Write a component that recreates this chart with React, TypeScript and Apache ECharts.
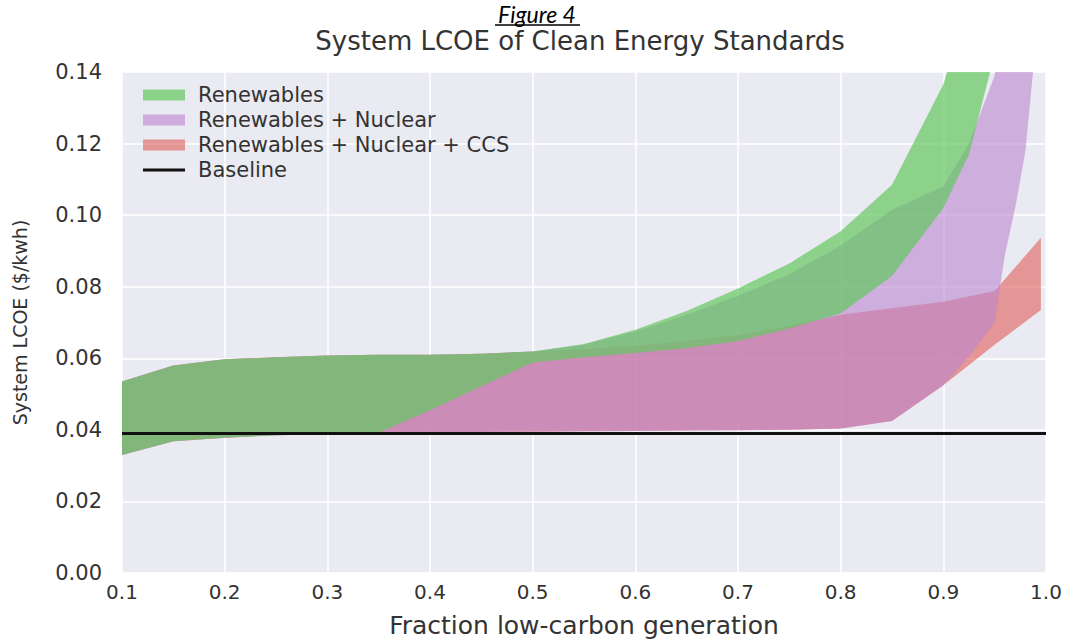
import React, { useEffect, useRef } from "react";
import * as echarts from "echarts";

// ---- Data ----
const renewablesX = [0.1, 0.15, 0.2, 0.25, 0.3, 0.35, 0.4, 0.45, 0.5, 0.55, 0.6, 0.65, 0.7, 0.75, 0.8, 0.85, 0.9, 0.925, 0.95];
const renewablesLow = [0.033, 0.0368, 0.0378, 0.0385, 0.0388, 0.0392, 0.0455, 0.0522, 0.0588, 0.0603, 0.0615, 0.0628, 0.0648, 0.0683, 0.0725, 0.083, 0.102, 0.117, 0.145];
const renewablesHigh = [0.0535, 0.058, 0.0597, 0.0603, 0.0608, 0.061, 0.061, 0.0613, 0.0619, 0.064, 0.068, 0.0732, 0.0795, 0.0865, 0.0955, 0.1085, 0.1365, 0.16, 0.18];

const nuclearX = [0.1, 0.15, 0.2, 0.25, 0.3, 0.35, 0.4, 0.45, 0.5, 0.55, 0.6, 0.65, 0.7, 0.75, 0.8, 0.85, 0.9, 0.925, 0.95, 0.96, 0.97, 0.98, 0.99];
const nuclearLow = [0.033, 0.0368, 0.0378, 0.0385, 0.0388, 0.0392, 0.0393, 0.0394, 0.0395, 0.0396, 0.0397, 0.0398, 0.0399, 0.04, 0.0404, 0.0425, 0.0525, 0.0605, 0.07, 0.089, 0.102, 0.118, 0.148];
const nuclearHigh = [0.0535, 0.058, 0.0597, 0.0603, 0.0608, 0.061, 0.061, 0.0613, 0.0619, 0.0638, 0.0675, 0.0722, 0.0775, 0.0835, 0.0915, 0.1015, 0.108, 0.12, 0.139, 0.155, 0.17, 0.185, 0.2];

const ccsX = [0.1, 0.15, 0.2, 0.25, 0.3, 0.35, 0.4, 0.45, 0.5, 0.55, 0.6, 0.65, 0.7, 0.75, 0.8, 0.85, 0.9, 0.95, 0.995];
const ccsLow = [0.033, 0.0368, 0.0378, 0.0385, 0.0388, 0.0392, 0.0393, 0.0394, 0.0395, 0.0396, 0.0397, 0.0398, 0.0399, 0.04, 0.0404, 0.0425, 0.0525, 0.0638, 0.0735];
const ccsHigh = [0.0535, 0.058, 0.0597, 0.0603, 0.0608, 0.061, 0.061, 0.0613, 0.0619, 0.0625, 0.0635, 0.0648, 0.0665, 0.069, 0.0722, 0.074, 0.0758, 0.0788, 0.0937];

const baselineX = [0.1, 1.0];
const baselineY = [0.039, 0.039];

const xTicks = [0.1, 0.2, 0.3, 0.4, 0.5, 0.6, 0.7, 0.8, 0.9, 1.0];
const yTicks = [0, 0.02, 0.04, 0.06, 0.08, 0.1, 0.12, 0.14];

const GREEN = "rgba(100, 200, 96, 0.7)";
const PURPLE = "rgba(186, 134, 205, 0.6)";
const RED = "rgba(224, 94, 89, 0.6)";
const FONT = "DejaVu Sans";

function clipTop(pts: number[][], top: number): number[][] {
  const out: number[][] = [];
  for (let i = 0; i < pts.length; i++) {
    const a = pts[i];
    const b = pts[(i + 1) % pts.length];
    const ain = a[1] >= top;
    const bin = b[1] >= top;
    if (ain) out.push(a);
    if (ain !== bin) {
      const t = (top - a[1]) / (b[1] - a[1]);
      out.push([a[0] + t * (b[0] - a[0]), top]);
    }
  }
  return out;
}

function bandSeries(name: string, xs: number[], low: number[], high: number[], color: string, z: number) {
  const data = xs.map((x, i) => [x, low[i], high[i]]);
  return {
    type: "custom",
    name,
    data,
    z,
    silent: true,
    clip: true,
    itemStyle: { color },
    encode: { x: 0, y: [1, 2] },
    renderItem: (params: any, api: any) => {
      if (params.dataIndex !== 0) return null;
      const lower = data.map((d) => api.coord([d[0], d[1]]));
      const upper = data.map((d) => api.coord([d[0], d[2]])).reverse();
      const top = params.coordSys.y;
      const pts = clipTop(lower.concat(upper), top);
      return {
        type: "polygon",
        shape: { points: pts },
        style: { fill: color, stroke: "none" },
      };
    },
  };
}

export default function App() {
  const ref = useRef<HTMLDivElement>(null);

  useEffect(() => {
    if (!ref.current) return;
    const chart = echarts.init(ref.current, undefined, { renderer: "svg" });
    const option: any = {
      animation: false,
      backgroundColor: "#ffffff",
      grid: {
        left: 122,
        right: 22,
        top: 72,
        bottom: 63,
        show: true,
        backgroundColor: "#EAEAF2",
        borderWidth: 0,
      },
      graphic: [
        {
          type: "text",
          x: 537,
          y: 2,
          style: {
            text: "Figure 4",
            font: "italic 23px Lato",
            fill: "#000",
            align: "center",
            verticalAlign: "top",
          },
        },
        {
          type: "line",
          shape: { x1: 495, y1: 25, x2: 580, y2: 25 },
          style: { stroke: "#000", lineWidth: 1.5 },
        },
        {
          type: "text",
          x: 580,
          y: 41,
          style: {
            text: "System LCOE of Clean Energy Standards",
            font: `26px '${FONT}'`,
            fill: "#333",
            align: "center",
            verticalAlign: "middle",
          },
        },
      ],
      legend: {
        orient: "vertical",
        left: 138,
        top: 79,
        itemWidth: 42,
        itemHeight: 11,
        itemGap: 3,
        selectedMode: false,
        textStyle: { fontFamily: FONT, fontSize: 21, color: "#333", lineHeight: 22, padding: [0, 0, 0, 8] },
        data: [
          { name: "Renewables", icon: "rect", itemStyle: { color: GREEN, borderWidth: 0 } },
          { name: "Renewables + Nuclear", icon: "rect", itemStyle: { color: PURPLE, borderWidth: 0 } },
          { name: "Renewables + Nuclear + CCS", icon: "rect", itemStyle: { color: RED, borderWidth: 0 } },
          { name: "Baseline", icon: "path://M0 0H42V3H0Z", itemStyle: { color: "#111", borderWidth: 0 } },
        ],
      },
      xAxis: {
        type: "value",
        min: xTicks[0],
        max: xTicks[xTicks.length - 1],
        interval: 0.1,
        name: "Fraction low-carbon generation",
        nameLocation: "middle",
        nameGap: 40,
        nameTextStyle: { fontFamily: FONT, fontSize: 25, color: "#333" },
        axisLine: { show: false },
        axisTick: { show: false },
        axisLabel: {
          fontFamily: FONT,
          fontSize: 20,
          color: "#333",
          margin: 9,
          formatter: (v: number) => v.toFixed(1),
        },
        splitLine: { show: true, lineStyle: { color: "#ffffff", width: 1.6 } },
      },
      yAxis: {
        type: "value",
        min: yTicks[0],
        max: yTicks[yTicks.length - 1],
        interval: 0.02,
        name: "System LCOE ($/kwh)",
        nameLocation: "middle",
        nameRotate: 90,
        nameGap: 93,
        nameTextStyle: { fontFamily: FONT, fontSize: 19, color: "#333" },
        axisLine: { show: false },
        axisTick: { show: false },
        axisLabel: {
          fontFamily: FONT,
          fontSize: 21,
          color: "#333",
          margin: 20,
          formatter: (v: number) => v.toFixed(2),
        },
        splitLine: { show: true, lineStyle: { color: "#ffffff", width: 1.6 } },
      },
      series: [
        bandSeries("Renewables + Nuclear + CCS", ccsX, ccsLow, ccsHigh, RED, 1),
        bandSeries("Renewables + Nuclear", nuclearX, nuclearLow, nuclearHigh, PURPLE, 2),
        bandSeries("Renewables", renewablesX, renewablesLow, renewablesHigh, GREEN, 3),
        {
          type: "line",
          name: "Baseline",
          data: baselineX.map((x, i) => [x, baselineY[i]]),
          showSymbol: false,
          symbol: "none",
          silent: true,
          z: 4,
          lineStyle: { color: "#111", width: 3 },
          itemStyle: { color: "#111" },
        },
      ],
    };
    chart.setOption(option);
    return () => chart.dispose();
  }, []);

  return (
    <div
      ref={ref}
      style={{ position: "fixed", left: 0, top: 0, width: 1068, height: 643, background: "#fff" }}
    />
  );
}
